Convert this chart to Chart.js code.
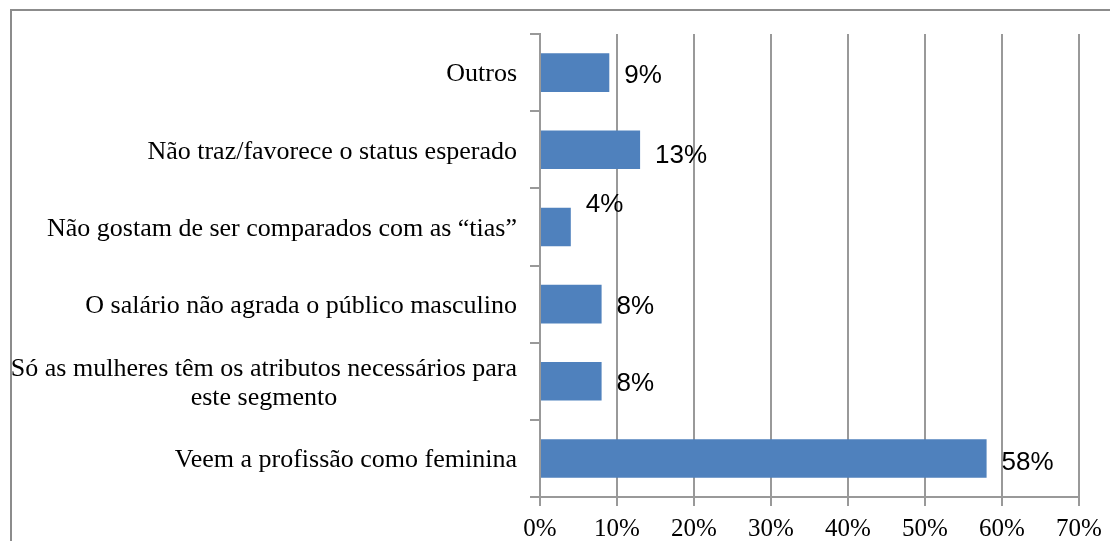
<!DOCTYPE html>
<html>
<head>
<meta charset="utf-8">
<script src="https://cdn.jsdelivr.net/npm/chart.js@4"></script>
<style>
  html, body { margin: 0; padding: 0; background: #fff; overflow: hidden; }
  #wrap { position: relative; width: 1110px; height: 541px; }
  #frame { position: absolute; left: 10px; top: 9px; width: 1200px; height: 600px; border: 2px solid #8c8c8c; box-sizing: border-box; }
  #chart { position: absolute; left: 0; top: 0; }
</style>
</head>
<body>
<div id="wrap">
  <div id="frame"></div>
  <canvas id="chart" width="1110" height="541"></canvas>
</div>
<script>
// data (top to bottom)
const categories = [
  "Outros",
  "Não traz/favorece o status esperado",
  "Não gostam de ser comparados com as “tias”",
  "O salário não agrada o público masculino",
  ["Só as mulheres têm os atributos necessários para", "este segmento"],
  "Veem a profissão como feminina"
];
const percentages = [9, 13, 4, 8, 8, 58];
const xTicksMax = 70;
const xTickStep = 10;

// label nudges (px), the 4% label sits above its bar
const labelShiftY = [3, 6, -22, 3, 3, 4];

const gridGray = '#999999';

// category labels: right-aligned block, lines centred
const yLabels = {
  id: 'yLabels',
  afterDraw(chart) {
    const y = chart.scales.y;
    const ctx = chart.ctx;
    ctx.save();
    ctx.font = '26px "Liberation Serif"';
    ctx.fillStyle = '#000';
    ctx.textAlign = 'center';
    ctx.textBaseline = 'middle';
    const right = y.right - 23;
    categories.forEach((lab, i) => {
      const lines = Array.isArray(lab) ? lab : [lab];
      const w = Math.max(...lines.map(l => ctx.measureText(l).width));
      const cy = y.getPixelForValue(i) + 2;
      const lh = 29;
      lines.forEach((l, k) => {
        ctx.fillText(l, right - w / 2, cy - (lines.length - 1) * lh / 2 + k * lh);
      });
    });
    ctx.restore();
  }
};

// value labels after bar ends
const valueLabels = {
  id: 'valueLabels',
  afterDatasetsDraw(chart) {
    const ctx = chart.ctx;
    const meta = chart.getDatasetMeta(0);
    ctx.save();
    ctx.font = '26px "Liberation Sans"';
    ctx.fillStyle = '#000';
    ctx.textAlign = 'left';
    ctx.textBaseline = 'middle';
    meta.data.forEach((bar, i) => {
      ctx.fillText(percentages[i] + '%', bar.x + 15, bar.y + labelShiftY[i]);
    });
    ctx.restore();
  }
};

new Chart(document.getElementById('chart'), {
  type: 'bar',
  data: {
    labels: categories,
    datasets: [{
      data: percentages,
      backgroundColor: '#4f81bd',
      borderWidth: 0,
      categoryPercentage: 1,
      barPercentage: 0.5
    }]
  },
  options: {
    indexAxis: 'y',
    responsive: false,
    animation: false,
    devicePixelRatio: 1,
    layout: { padding: { top: 34, left: 0, right: 31, bottom: 0 } },
    plugins: { legend: { display: false }, tooltip: { enabled: false } },
    scales: {
      x: {
        min: 0,
        max: xTicksMax,
        ticks: {
          stepSize: xTickStep,
          callback: v => v + '%',
          color: '#000',
          font: { family: 'Liberation Serif', size: 25 },
          padding: 8,
          maxRotation: 0
        },
        grid: { color: gridGray, lineWidth: 2, tickLength: 9 },
        border: { color: gridGray, width: 2 },
        afterFit: s => { s.height = 44; }
      },
      y: {
        ticks: { display: false },
        grid: { drawOnChartArea: false, color: gridGray, lineWidth: 2, tickLength: 10, offset: true },
        border: { color: gridGray, width: 2 },
        afterFit: s => { s.width = 540; }
      }
    }
  },
  plugins: [yLabels, valueLabels]
});
</script>
</body>
</html>
